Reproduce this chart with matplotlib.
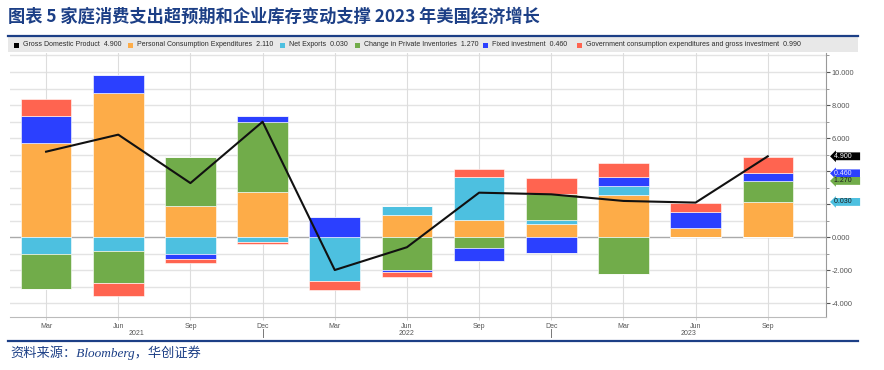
import matplotlib
matplotlib.use("Agg")
import matplotlib.pyplot as plt
import matplotlib.transforms as mtransforms
from matplotlib.patches import Rectangle
import numpy as np

# quarterly data, contributions to US real GDP growth (ppt, saar)
quarters = ['Mar', 'Jun', 'Sep', 'Dec', 'Mar', 'Jun', 'Sep', 'Dec', 'Mar', 'Jun', 'Sep']
years = ['2021', '2022', '2023']
gdp = [5.18, 6.21, 3.28, 6.99, -1.98, -0.60, 2.70, 2.60, 2.20, 2.10, 4.90]
pce = [5.70, 8.75, 1.91, 2.72, 0.00, 1.33, 1.05, 0.80, 2.56, 0.56, 2.11]
net_exports = [-1.01, -0.85, -1.01, -0.30, -2.62, 0.54, 2.58, 0.25, 0.56, 0.00, 0.03]
inventories = [-2.10, -1.89, 2.97, 4.27, -0.04, -2.00, -0.65, 1.57, -2.20, 0.00, 1.27]
fixed_inv = [1.62, 1.05, -0.28, 0.35, 1.25, -0.10, -0.78, -0.97, 0.55, 0.95, 0.46]
government = [1.05, -0.79, -0.26, -0.08, -0.53, -0.32, 0.48, 0.95, 0.81, 0.56, 0.99]

legend_names = ['Gross Domestic Product', 'Personal Consumption Expenditures', 'Net Exports',
                'Change in Private Inventories', 'Fixed investment',
                'Government consumption expenditures and gross investment']
legend_values = ['4.900', '2.110', '0.030', '1.270', '0.460', '0.990']

C_PCE = '#fdac48'
C_NX = '#4dc0e0'
C_INV = '#71ac4a'
C_FIX = '#2b40ff'
C_GOV = '#ff6450'
NAVY = '#1c3f86'

W, H = 884, 370
fig = plt.figure(figsize=(W / 100, H / 100), dpi=100)

def fx(px):
    return px / W

def fy(py):
    return 1 - py / H

# title
fig.text(fx(8), fy(17), '图表 5 家庭消费支出超预期和企业库存变动支撑 2023 年美国经济增长',
         family=['Noto Sans CJK SC', 'DejaVu Sans'], fontweight='bold', fontsize=12.4,
         color=NAVY, va='center', ha='left')

# top/bottom rules
fig.add_artist(plt.Line2D([fx(8), fx(858)], [fy(35.5), fy(35.5)], color=NAVY, lw=1.6))
fig.add_artist(plt.Line2D([fx(8), fx(858)], [fy(340.5), fy(340.5)], color=NAVY, lw=1.6))

# legend strip
fig.add_artist(Rectangle((fx(8), fy(51.5)), fx(850), (51.5 - 37.5) / H,
                         transform=fig.transFigure, fc='#e8e8e8', ec='none'))
leg_colors = ['black', C_PCE, C_NX, C_INV, C_FIX, C_GOV]
leg_x = [14, 128, 280, 355, 483, 577]
for x0, c, name, val in zip(leg_x, leg_colors, legend_names, legend_values):
    fig.add_artist(Rectangle((fx(x0), fy(47.5)), fx(5), 5 / H,
                             transform=fig.transFigure, fc=c, ec='none'))
    fig.text(fx(x0 + 9), fy(44.8), name + '  ' + val, fontsize=5, family='Liberation Sans',
             color='#2a2a2a', va='center', ha='left')

# main axes
ax = fig.add_axes([fx(10), fy(317.3), fx(825.5 - 10), (317.3 - 53) / H])
x = np.arange(len(quarters))
ax.set_xlim(-0.5, 10.8)
ax.set_ylim(-4.84, 11.15)

for v in range(-4, 12):
    ax.axhline(v, color='#aaaaaa' if v == 0 else '#e3e3e3', lw=1.0, zorder=0)
for xi in x:
    ax.axvline(xi, color='#dddddd', lw=0.8, zorder=0)

pos_base = np.zeros(len(x))
neg_base = np.zeros(len(x))
tops = {}
for vals, c in [(pce, C_PCE), (net_exports, C_NX), (inventories, C_INV),
                (fixed_inv, C_FIX), (government, C_GOV)]:
    vals = np.array(vals)
    pos = np.where(vals > 0, vals, 0)
    neg = np.where(vals < 0, vals, 0)
    ax.bar(x, pos, bottom=pos_base, width=0.7, color=c, edgecolor='#ffffff', lw=0.4, zorder=2)
    ax.bar(x, neg, bottom=neg_base, width=0.7, color=c, edgecolor='#ffffff', lw=0.4, zorder=2)
    pos_base += pos
    neg_base += neg
    tops[c] = pos_base[-1]

ax.plot(x, gdp, color='#111111', lw=1.5, zorder=3)

# right axis (4.000 and 2.000 sit under the value tags)
yt = list(range(-4, 11, 2))
ax.yaxis.tick_right()
ax.set_yticks(yt)
ax.set_yticklabels(['' if v in (2, 4) else '%.3f' % v for v in yt])
ax.set_yticks(range(-3, 12, 2), minor=True)
ax.tick_params(axis='y', which='major', length=3, width=0.8, color='#555555', pad=1.5,
               labelsize=5.3, labelcolor='#555555')
ax.tick_params(axis='y', which='minor', length=2, width=0.6, color='#888888')
for lab in ax.get_yticklabels():
    lab.set_family('Liberation Sans')

ax.set_xticks(x)
ax.set_xticklabels(quarters)
ax.tick_params(axis='x', length=2.5, width=0.6, color='#cccccc', pad=1.5,
               labelsize=5, labelcolor='#555555')
for lab in ax.get_xticklabels():
    lab.set_family('Liberation Sans')

for s in ['left', 'top']:
    ax.spines[s].set_visible(False)
ax.spines['right'].set_color('#999999')
ax.spines['bottom'].set_color('#bbbbbb')

# year labels and separators
trans = mtransforms.blended_transform_factory(ax.transData, ax.transAxes)
ax_h = 317.3 - 53
spans = [(-0.5, 3), (3, 7), (7, 10.8)]
for yr, (a, b) in zip(years, spans):
    ax.text((a + b) / 2, -16 / ax_h, yr, transform=trans, fontsize=5, family='Liberation Sans',
            color='#555555', ha='center', va='center')
for sep in [3, 7]:
    ax.plot([sep, sep], [-12 / ax_h, -19.5 / ax_h], transform=trans, color='#777777',
            lw=0.7, clip_on=False)

# value tags on right axis
trans_r = mtransforms.blended_transform_factory(ax.transAxes, ax.transData)
tags = [(gdp[-1], '4.900', 'black', 'white'),
        (tops[C_FIX], '0.460', C_FIX, '#e8e8ff'),
        (tops[C_INV], '1.270', C_INV, '#1a1a1a'),
        (tops[C_NX], '0.030', C_NX, '#1a1a1a')]
for yv, s, fc, tc in tags:
    ax.text(1.0105, yv, s + '    ', transform=trans_r, fontsize=5.0, family='Liberation Sans',
            color=tc, va='center', ha='left', zorder=5,
            bbox=dict(boxstyle='larrow,pad=0.06', fc=fc, ec='none'))

# source
fig.text(fx(10), fy(353), '资料来源：Bloomberg，华创证券',
         family=['Liberation Serif', 'Noto Sans CJK SC'], style='italic', fontsize=9.5,
         color=NAVY, va='center', ha='left')

fig.savefig('out.png', dpi=100)
